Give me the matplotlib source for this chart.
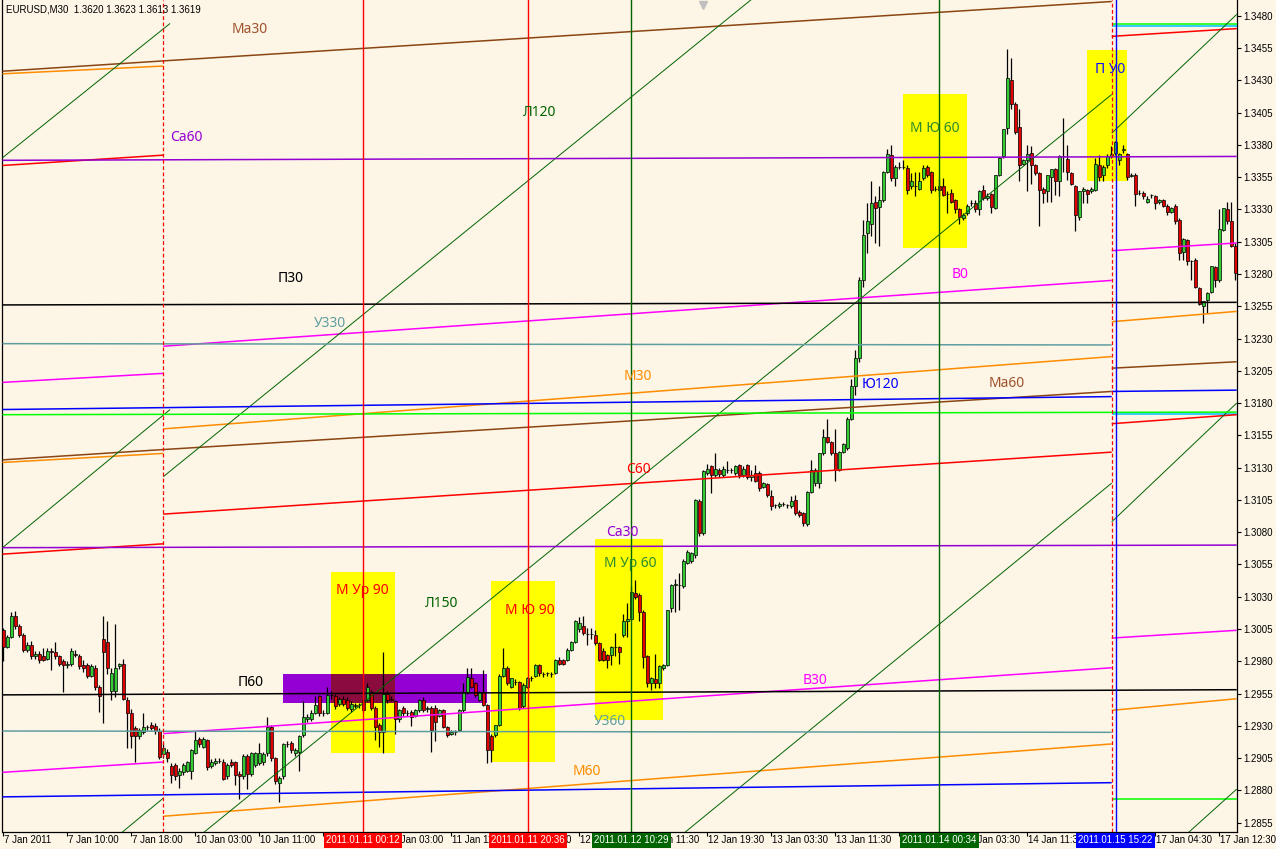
import numpy as np
import matplotlib
matplotlib.use("Agg")
import matplotlib.pyplot as plt
import matplotlib.transforms as mtransforms
from matplotlib.patches import Rectangle

# EURUSD M30, prices in pips above 1.2800
base = 1.28
opens = [
    204, 191, 199, 215, 207, 200, 189, 193, 184, 186,
    184, 182, 188, 187, 184, 180, 177, 178, 186, 184,
    177, 177, 169, 175, 160, 197, 195, 157, 157, 176,
    178, 150, 140, 128, 122, 125, 129, 131, 130, 126,
    108, 110, 99, 100, 92, 94, 95, 95, 109, 120,
    114, 119, 99, 101, 103, 102, 91, 102, 102, 93,
    91, 107, 93, 100, 101, 102, 109, 129, 105, 86,
    91, 116, 117, 109, 110, 123, 135, 135, 140, 153,
    140, 140, 154, 153, 147, 151, 150, 143, 145, 146,
    150, 150, 156, 144, 131, 125, 155, 151, 149, 135,
    144, 140, 141, 138, 142, 150, 143, 144, 144, 138,
    142, 129, 124, 125, 127, 142, 156, 167, 163, 150,
    156, 146, 122, 123, 131, 169, 175, 160, 164, 164,
    145, 160, 167, 169, 177, 170, 171, 170, 171, 181,
    181, 181, 189, 195, 205, 207, 201, 201, 200, 194,
    188, 185, 185, 191, 191, 200, 211, 213, 233, 231,
    218, 184, 163, 166, 163, 175, 177, 221, 239, 239,
    238, 256, 258, 262, 304, 279, 326, 331, 324, 328,
    324, 328, 328, 326, 332, 324, 332, 323, 326, 326,
    315, 317, 308, 301, 300, 302, 301, 300, 305, 296,
    295, 286, 311, 318, 318, 341, 354, 350, 341, 328,
    342, 345, 368, 393, 415, 475, 512, 519, 536, 532,
    537, 559, 572, 554, 563, 563, 562, 548, 548, 546,
    554, 563, 559, 546, 548, 548, 542, 543, 537, 530,
    523, 527, 535, 535, 530, 545, 539, 542, 531, 557,
    571, 593, 630, 612, 594, 565, 568, 574, 564, 558,
    546, 544, 555, 561, 552, 571, 569, 558, 548, 524,
    544, 545, 544, 545, 564, 557, 564, 571, 574, 568,
    576, 573, 556, 557, 543, 543, 536, 541, 540, 536,
    537, 533, 528, 533, 522, 497, 506, 490, 491, 469,
    455, 460, 466, 485, 475, 514, 530, 521, 502,
]
highs = [
    206, 200, 218, 219, 209, 202, 195, 196, 188, 188,
    190, 190, 190, 195, 185, 182, 180, 190, 189, 186,
    181, 179, 178, 177, 162, 215, 211, 175, 209, 179,
    182, 152, 143, 130, 128, 140, 131, 133, 132, 128,
    117, 112, 101, 101, 97, 101, 103, 112, 126, 121,
    121, 120, 104, 105, 105, 104, 101, 104, 103, 95,
    108, 108, 110, 110, 117, 110, 137, 131, 106, 91,
    117, 118, 118, 113, 123, 149, 139, 142, 153, 154,
    142, 160, 157, 155, 152, 153, 152, 149, 148, 148,
    152, 163, 158, 145, 132, 187, 157, 153, 150, 143,
    145, 142, 142, 143, 151, 152, 145, 145, 146, 143,
    143, 130, 127, 127, 143, 163, 175, 175, 164, 157,
    173, 147, 124, 131, 170, 190, 176, 167, 166, 165,
    163, 168, 169, 178, 178, 172, 172, 172, 182, 183,
    182, 190, 196, 212, 214, 215, 206, 206, 204, 195,
    190, 186, 192, 202, 192, 217, 225, 238, 243, 233,
    220, 185, 168, 186, 177, 178, 220, 240, 244, 248,
    259, 266, 265, 306, 306, 328, 333, 332, 341, 330,
    331, 335, 330, 332, 333, 331, 333, 328, 332, 327,
    319, 318, 313, 302, 303, 303, 302, 308, 309, 297,
    296, 312, 336, 330, 341, 360, 368, 351, 360, 343,
    349, 369, 399, 421, 478, 522, 535, 552, 540, 548,
    560, 577, 580, 564, 567, 568, 564, 558, 559, 559,
    564, 564, 560, 548, 554, 554, 544, 546, 538, 531,
    527, 534, 537, 537, 545, 549, 543, 543, 557, 570,
    592, 654, 647, 613, 608, 569, 580, 579, 565, 559,
    547, 557, 561, 562, 572, 601, 580, 559, 549, 544,
    547, 546, 547, 570, 572, 564, 573, 579, 583, 574,
    580, 574, 558, 558, 545, 544, 540, 542, 541, 538,
    538, 534, 532, 534, 523, 508, 507, 491, 492, 470,
    459, 466, 486, 486, 530, 531, 536, 536, 504,
]
lows = [
    180, 190, 198, 205, 199, 187, 187, 182, 182, 179,
    180, 181, 173, 182, 176, 156, 175, 176, 183, 174,
    172, 167, 168, 158, 141, 132, 170, 150, 152, 174,
    150, 113, 113, 102, 120, 124, 127, 127, 124, 104,
    105, 102, 86, 88, 82, 92, 94, 89, 108, 114,
    113, 96, 97, 100, 101, 88, 89, 98, 84, 73,
    89, 81, 91, 98, 100, 100, 107, 103, 85, 71,
    89, 114, 109, 107, 95, 121, 133, 134, 139, 138,
    138, 139, 151, 143, 145, 145, 142, 141, 144, 144,
    141, 149, 142, 119, 114, 109, 148, 149, 124, 133,
    138, 138, 130, 137, 141, 141, 141, 110, 118, 137,
    128, 121, 123, 123, 126, 141, 155, 159, 152, 149,
    145, 101, 102, 121, 130, 168, 162, 159, 162, 142,
    144, 159, 165, 168, 169, 168, 169, 168, 170, 177,
    177, 180, 188, 194, 203, 200, 193, 197, 193, 180,
    180, 175, 177, 184, 178, 199, 199, 212, 228, 211,
    175, 160, 158, 159, 159, 173, 176, 218, 218, 220,
    237, 255, 256, 260, 277, 278, 324, 310, 323, 323,
    323, 326, 326, 324, 322, 323, 321, 320, 319, 312,
    314, 307, 297, 299, 299, 300, 299, 299, 293, 292,
    285, 285, 310, 316, 314, 340, 349, 340, 320, 327,
    341, 344, 367, 386, 412, 470, 496, 509, 504, 502,
    536, 558, 552, 548, 561, 561, 542, 546, 540, 545,
    553, 555, 543, 544, 540, 540, 527, 535, 527, 519,
    522, 526, 533, 528, 526, 537, 537, 527, 530, 556,
    570, 588, 608, 588, 552, 564, 544, 550, 557, 517,
    535, 536, 536, 541, 540, 559, 553, 549, 513, 522,
    535, 535, 543, 544, 552, 552, 562, 570, 572, 564,
    574, 553, 555, 533, 541, 538, 535, 539, 530, 534,
    532, 526, 527, 519, 491, 491, 487, 475, 469, 456,
    442, 450, 465, 470, 474, 513, 519, 501, 475,
]
closes = [
    191, 199, 215, 207, 200, 189, 193, 184, 186, 181,
    181, 188, 187, 184, 178, 177, 178, 188, 185, 176,
    175, 169, 176, 160, 153, 187, 175, 171, 175, 178,
    151, 140, 122, 122, 127, 129, 129, 128, 126, 106,
    113, 105, 92, 91, 95, 100, 102, 111, 119, 116,
    120, 98, 102, 103, 103, 89, 100, 100, 92, 91,
    107, 93, 109, 109, 109, 108, 129, 105, 87, 90,
    116, 116, 111, 111, 122, 137, 137, 140, 146, 140,
    140, 154, 154, 145, 151, 147, 144, 147, 146, 146,
    142, 160, 144, 129, 125, 155, 150, 150, 135, 142,
    140, 140, 137, 142, 150, 142, 144, 127, 133, 142,
    129, 123, 125, 125, 142, 156, 168, 160, 154, 156,
    146, 111, 111, 131, 169, 175, 163, 167, 164, 144,
    162, 167, 167, 177, 171, 170, 171, 170, 181, 178,
    178, 189, 195, 211, 210, 202, 201, 201, 194, 181,
    181, 181, 191, 191, 187, 211, 213, 234, 230, 218,
    183, 163, 167, 163, 176, 177, 220, 239, 240, 239,
    258, 265, 264, 305, 279, 327, 329, 324, 329, 325,
    329, 328, 328, 331, 324, 329, 323, 324, 320, 314,
    318, 309, 300, 301, 302, 302, 301, 304, 295, 293,
    287, 311, 328, 328, 341, 354, 350, 341, 328, 342,
    348, 368, 393, 415, 475, 510, 521, 535, 531, 537,
    559, 573, 554, 563, 563, 563, 545, 552, 548, 552,
    562, 557, 545, 546, 545, 541, 542, 536, 530, 524,
    526, 533, 535, 530, 544, 539, 540, 532, 557, 570,
    592, 632, 612, 590, 564, 568, 573, 564, 558, 545,
    543, 557, 561, 552, 571, 571, 559, 550, 526, 544,
    546, 542, 546, 565, 555, 563, 571, 573, 582, 573,
    577, 555, 557, 542, 543, 540, 538, 541, 535, 537,
    533, 528, 531, 521, 496, 507, 490, 490, 470, 457,
    459, 465, 486, 475, 515, 531, 521, 502, 481,
]

# time axis (bar index of each label)
tick_bars = list(range(0, 309, 16))
tick_labels = ["7 Jan 2011", "7 Jan 10:00", "7 Jan 18:00", "10 Jan 03:00", "10 Jan 11:00",
               "10 Jan 19:00", "11 Jan 03:00", "11 Jan 11:00", "11 Jan 19:00", "12 Jan 03:30",
               "12 Jan 11:30", "12 Jan 19:30", "13 Jan 03:30", "13 Jan 11:30", "13 Jan 19:30",
               "14 Jan 03:30", "14 Jan 11:30", "14 Jan 19:30", "17 Jan 04:30", "17 Jan 12:30"]

# vertical markers with their time stamps
vline_bars = [89.9, 131.1, 157.0, 234.0, 278.05]
vline_texts = ["2011.01.11 00:12", "2011.01.11 20:36", "2011.01.12 10:29", "2011.01.14 00:34", "2011.01.15 15:22"]
vline_colors = ["#FF0000", "#FF0000", "#006400", "#006400", "#0000FF"]

# period separators
sep_bars = [40.0, 277.1]

bar_left, sep1, sep2, bar_right = -0.2, 40.0, 277.1, 308.35

# level / trend segments: start bar, end bar, start price, end price
seg_x0 = [bar_left] * 11 + [sep1] * 10 + [sep2] * 15 + [bar_left] * 9
seg_x1 = ([sep1] * 8 + [41.7, 41.7, sep1] + [sep2] * 10 + [bar_right] * 15
          + [bar_right] * 5 + [sep2] * 4)
seg_p0 = [1.3437, 1.3435, 1.3364, 1.3196, 1.3136, 1.3134, 1.3063, 1.2894, 1.3370, 1.3068, 1.2771,
          1.3445, 1.3224, 1.3160, 1.3144, 1.3094, 1.2924, 1.2860, 1.3123, 1.2822, 1.2517,
          1.34735, 1.34722, 1.3464, 1.3389, 1.3298, 1.3243, 1.3207, 1.3189, 1.31713, 1.3164,
          1.3088, 1.2998, 1.2942, 1.2873, 1.2794,
          1.3368, 1.3256, 1.3171, 1.3068, 1.2954,
          1.3226, 1.3175, 1.2926, 1.2875]
seg_p1 = [1.3445, 1.3441, 1.3372, 1.3203, 1.3144, 1.3141, 1.3071, 1.2902, 1.3474, 1.3175, 1.2874,
          1.3491, 1.3275, 1.3216, 1.3189, 1.3142, 1.2975, 1.2916, 1.3719, 1.3419, 1.3118,
          1.34735, 1.34722, 1.3470, 1.3481, 1.3304, 1.3251, 1.3212, 1.3190, 1.31713, 1.3171,
          1.3180, 1.3004, 1.2951, 1.2873, 1.2881,
          1.3371, 1.3258, 1.3173, 1.3070, 1.2958,
          1.3225, 1.3185, 1.2925, 1.2886]

brown, orange, red, mag, purple = "#8B4513", "#FF8C00", "#FF0000", "#FF00FF", "#9400D3"
dgreen, lime, cyan, teal, blue = "#006400", "#00FF00", "#00BFFF", "#5F9EA0", "#0000FF"
seg_color = [brown, orange, red, mag, brown, orange, red, mag, dgreen, dgreen, dgreen,
             brown, mag, orange, brown, red, mag, orange, dgreen, dgreen, dgreen,
             lime, cyan, red, dgreen, mag, orange, brown, blue, cyan, red,
             dgreen, mag, orange, lime, dgreen,
             purple, "black", lime, purple, "black",
             teal, blue, teal, blue]

# rectangles: start bar, end bar, low, high
box_b0 = [81.9, 121.9, 147.9, 225.0, 270.85]
box_b1 = [97.9, 137.9, 164.85, 240.85, 280.85]
box_lo = [1.29092, 1.29022, 1.29345, 1.33003, 1.33520]
box_hi = [1.30489, 1.30422, 1.30747, 1.34194, 1.34534]
zone_b0, zone_b1, zone_lo, zone_hi = 69.85, 120.85, 1.29479, 1.29699

# text labels
label_text = ["Ма30", "Са60", "Л120", "П30", "У330", "М30", "Ю120", "Ма60", "С60", "В0",
              "М Ю 60", "П У0", "Са30", "М Ур 60", "М Ур 90", "Л150", "М Ю 90", "П60", "В30",
              "У360", "М60"]
label_bar = [61.7, 45.7, 134.2, 71.9, 81.7, 158.7, 219.2, 250.9, 158.9, 239.2,
             232.9, 276.7, 154.7, 156.7, 89.7, 109.7, 131.7, 61.9, 202.9, 151.7, 145.9]
label_price = [1.34697, 1.33853, 1.34054, 1.32761, 1.32420, 1.32002, 1.31940, 1.31955, 1.31282,
               1.32792, 1.33930, 1.34380, 1.30794, 1.30561, 1.30352, 1.30244, 1.30190, 1.29632,
               1.29655, 1.29330, 1.28950]
label_color = ["#A0522D", purple, dgreen, "black", teal, orange, blue, "#A0522D", red, mag,
               "#2E8B2E", "#1010FF", purple, "#2E8B2E", red, dgreen, red, "black", mag, teal, orange]

bg = "#FDF5E6"
fig = plt.figure(figsize=(12.76, 8.49), dpi=100, facecolor=bg)
ax = fig.add_axes([2.5 / 1276, 17.3 / 849, 1234.2 / 1276, 831.7 / 849])
ax.set_facecolor(bg)
ax.set_xlim(bar_left, bar_right)
ax.set_ylim(1.284803, 1.349216)

# rectangles (background objects)
for b0, b1, lo, hi in zip(box_b0, box_b1, box_lo, box_hi):
    ax.add_patch(Rectangle((b0, lo), b1 - b0, hi - lo, facecolor="#FFFF00", edgecolor="none", zorder=1))
ax.add_patch(Rectangle((zone_b0, zone_lo), zone_b1 - zone_b0, zone_hi - zone_lo,
                       facecolor=purple, edgecolor="none", zorder=1.1))
for b0, b1, lo, hi in zip(box_b0, box_b1, box_lo, box_hi):
    ob0, ob1 = max(b0, zone_b0), min(b1, zone_b1)
    olo, ohi = max(lo, zone_lo), min(hi, zone_hi)
    if ob1 > ob0 and ohi > olo:
        ax.add_patch(Rectangle((ob0, olo), ob1 - ob0, ohi - olo, facecolor="#8B0B3E",
                               edgecolor="none", zorder=1.2))

# candles
o = base + np.array(opens) / 10000
h = base + np.array(highs) / 10000
l = base + np.array(lows) / 10000
c = base + np.array(closes) / 10000
x = np.arange(len(o))
up = c >= o
ax.vlines(x, l, h, color="black", lw=0.9, zorder=3)
ax.bar(x[up], (c - o)[up], bottom=o[up], width=0.72, color="#32CD32", edgecolor="black", lw=0.5, zorder=3.5)
ax.bar(x[~up], (o - c)[~up], bottom=c[~up], width=0.72, color="#E00000", edgecolor="black", lw=0.5, zorder=3.5)

# levels and trend lines
for x0, x1, p0, p1, col in zip(seg_x0, seg_x1, seg_p0, seg_p1, seg_color):
    lw = 0.7 if col == dgreen else 1.1
    ax.plot([x0, x1], [p0, p1], color=col, lw=lw, zorder=4, solid_capstyle="butt")

for sb in sep_bars:
    ax.axvline(sb, color="#FF0000", lw=0.9, ls=(0, (3, 2)), zorder=4.2)

trans = mtransforms.blended_transform_factory(ax.transData, ax.transAxes)
for vb, vc in zip(vline_bars, vline_colors):
    ax.axvline(vb, color=vc, lw=1.0, zorder=4.5)

for lt, lb, lp, lc in zip(label_text, label_bar, label_price, label_color):
    ax.text(lb, lp, lt, color=lc, fontsize=10, family="Noto Sans", ha="center", va="center", zorder=6)

# axes: price scale on the right, time scale below
ax.spines["top"].set_visible(False)
for s in ["left", "right", "bottom"]:
    ax.spines[s].set_color("black")
    ax.spines[s].set_linewidth(0.9)
ax.yaxis.tick_right()
yt = np.round(np.arange(1.2855, 1.34801, 0.0025), 4)
ax.set_yticks(yt)
ax.set_yticklabels([f"{v:.4f}" for v in yt], family="Liberation Sans", fontsize=7)
ax.tick_params(axis="y", direction="out", length=3, width=0.8, pad=2)
ax.set_xticks(tick_bars)
ax.set_xticklabels([])
ax.tick_params(axis="x", direction="out", length=3, width=0.8)

for tb, tl in zip(tick_bars, tick_labels):
    ax.text(tb + 0.2, -0.0105, tl, transform=trans, fontsize=7, family="Liberation Sans",
            ha="left", va="center", clip_on=False, zorder=7)
for vb, vt, vc in zip(vline_bars, vline_texts, vline_colors):
    ax.text(vb, -0.0105, vt, transform=trans, fontsize=7, family="Liberation Sans", color="white",
            ha="center", va="center", clip_on=False, zorder=8,
            bbox=dict(boxstyle="square,pad=0.22", facecolor=vc, edgecolor="none"))

fig.text(6 / 1276, 1 - 10 / 849, "EURUSD,M30  1.3620 1.3623 1.3613 1.3619", fontsize=7,
         family="Liberation Sans", ha="left", va="center")
ax.plot([0.5676], [0.994], marker="v", color="#C0C0C0", ms=6, transform=ax.transAxes, clip_on=False, zorder=8)

fig.savefig("out.png", dpi=100, facecolor=bg)
